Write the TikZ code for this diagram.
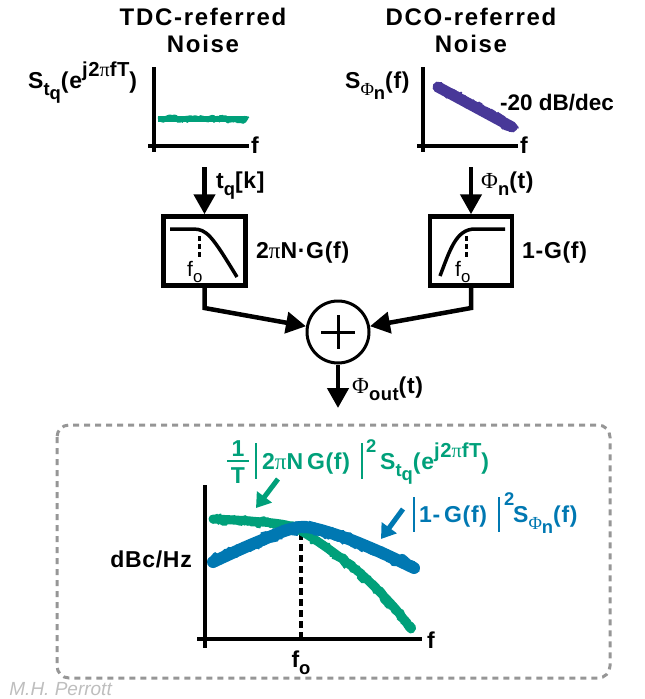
\documentclass[tikz,border=0pt]{standalone}
\usepackage{fontspec}
\setmainfont{Liberation Sans}
\newfontfamily\ttlfont[LetterSpace=7]{Liberation Sans}
\newfontfamily\lblfont[LetterSpace=3]{Liberation Sans}
\newfontfamily\gk{Liberation Serif}
\usetikzlibrary{arrows.meta,decorations.pathmorphing}
\definecolor{tgreen}{RGB}{0,160,122}
\definecolor{tblue}{RGB}{0,120,178}
\definecolor{tpurple}{RGB}{72,56,152}
\definecolor{tgray}{RGB}{150,150,150}
\definecolor{tlight}{RGB}{190,190,190}
\newcommand\lo[1]{\raisebox{-0.32em}{\scalebox{0.8}{#1}}}
\newcommand\hi[1]{\raisebox{0.5em}{\scalebox{0.88}{#1}}}
\newcommand\gpi{{\gk\mdseries π}}
\newcommand\gPhi{{\gk\mdseries Φ}}
\begin{document}
\begin{tikzpicture}[x=1pt,y=-1pt,
  ttl/.style={font=\ttlfont\fontsize{24}{28}\selectfont\bfseries, inner sep=0pt},
  lbl/.style={font=\lblfont\fontsize{23}{27}\selectfont\bfseries, inner sep=0pt},
  small/.style={font=\fontsize{21}{24}\selectfont, inner sep=0pt},
  axisline/.style={line width=4pt},
  arr/.style={line width=4.5pt, -{Triangle[length=20pt,width=21pt]}},
  carr/.style={line width=5pt, -{Triangle[length=14pt,width=18pt]}},
  filt/.style={draw, line width=4.5pt, minimum width=82pt, minimum height=69pt, inner sep=0pt},
  resp/.style={line width=3.5pt},
  vdash/.style={line width=3pt, dash pattern=on 5pt off 3pt},
  vbarline/.style={line width=2.8pt},
  noisy/.style={decorate, line join=bevel, line cap=butt, decoration={random steps, segment length=1.5pt, amplitude=2.5pt}}
]
\pgfmathsetseed{11}
\useasboundingbox (0,0) rectangle (645,699);

% titles
\node[ttl, anchor=base] (t1a) at (203,25) {TDC-referred};
\node[ttl, anchor=base] (t1b) at (203,52) {Noise};
\node[ttl, anchor=base] (t2a) at (471,25) {DCO-referred};
\node[ttl, anchor=base] (t2b) at (471,52) {Noise};

% left spectrum
\node[lbl, anchor=base west] (sl) at (28,88) {S\lo{t\raisebox{-0.25em}{q}}(e\hi{j2\gpi fT})};
\draw[axisline] (148,146) -- (249,146);
\draw[axisline] (154,67) -- (154,152);
\node[lbl, anchor=base west] (fl) at (251,153) {f};
\draw[tgreen, line width=6pt] (158,119) -- (246,119);
\draw[tgreen, line width=5pt, noisy] (158,119) -- (247,119);

% right spectrum
\node[lbl, anchor=base west] (sr) at (345,88) {S\lo{\gPhi\raisebox{-0.25em}{n}}(f)};
\draw[axisline] (417,146) -- (518,146);
\draw[axisline] (423,67) -- (423,152);
\node[lbl, anchor=base west] (fr) at (520,153) {f};
\draw[tpurple, line width=11pt, line cap=round] (438,87) -- (512,127);
\draw[tpurple, line width=9pt, noisy] (437,86) -- (514,128);
\node[font=\fontsize{22.5}{26}\selectfont\bfseries, inner sep=0pt, anchor=base west] (slope) at (500,110) {-20 dB/dec};

% filters
\node[filt] (lpf) at (204.5,251) {};
\node[filt] (hpf) at (471,251) {};
\draw[resp] (170,229) -- (193,229) .. controls (207,229) and (212,236) .. (237,277);
\draw[vdash] (199,236) -- (199,258);
\node[small, anchor=base west] (fo1) at (187,276) {f\lo{o}};
\draw[resp] (440,276) .. controls (450,250) and (456,229) .. (475,229) -- (505,229);
\draw[vdash] (466,236) -- (466,258);
\node[small, anchor=base west] (fo2) at (455,276) {f\lo{o}};
\node[lbl, anchor=base west] (gl) at (256,258) {2\gpi N·G(f)};
\node[lbl, anchor=base west] (hl) at (522,258) {1-G(f)};

% inputs
\coordinate (in1) at (204.5,167);
\coordinate (in2) at (471,167);
\draw[arr] (in1) -- (lpf.north);
\draw[arr] (in2) -- (hpf.north);
\node[lbl, anchor=base west] (tq) at (216,188) {t\lo{q}[k]};
\node[lbl, anchor=base west] (phin) at (481,188) {\gPhi\lo{n}(t)};

% summer
\node[circle, draw, line width=3pt, minimum size=62pt, inner sep=0pt] (sum) at (338,332) {};
\draw[line width=3pt] (321,332) -- (355,332) (338,315) -- (338,349);
\draw[arr] (lpf.south) -- (204.5,308) -- (sum);
\draw[arr] (hpf.south) -- (471,308) -- (sum);
\coordinate (out) at (338,408);
\draw[arr] (sum.south) -- (out);
\node[lbl, anchor=base west] (phout) at (352,393) {\gPhi\lo{out}(t)};

% result panel
\draw[tgray, line width=3pt, dash pattern=on 6pt off 5pt, rounded corners=12pt] (57,425) rectangle (610,678);
\draw[axisline] (205,485) -- (205,648);
\draw[axisline] (197,639) -- (422,639);
\node[lbl, anchor=base west] (fb) at (427,648) {f};
\node[lbl, anchor=base] (fob) at (301,667) {f\lo{o}};
\node[lbl, anchor=base east] (dbc) at (192,567) {dBc/Hz};
\draw[line width=3.5pt, dash pattern=on 7pt off 4pt] (301,533) -- (301,639);

\draw[tgreen, line width=9pt, line cap=round] plot[smooth] coordinates {(213,519) (250,521) (290,526) (320,543) (360,573) (393,606) (411,629)};
\draw[tgreen, line width=8pt, noisy] (212,519) -- (230,520) -- (250,521) -- (270,523) -- (290,526) -- (305,533) -- (320,543) -- (340,557) -- (360,573) -- (378,590) -- (393,606) -- (412,630);
\draw[tblue, line width=12pt, line cap=round] plot[smooth] coordinates {(213,562) (255,543) (300,527) (340,536) (380,552) (414,568)};
\draw[tblue, line width=11pt, noisy] (212,562) -- (234,552) -- (255,543) -- (278,534) -- (300,527) -- (320,530) -- (340,536) -- (360,544) -- (380,552) -- (398,560) -- (415,568);

% green label
\node[lbl, tgreen, anchor=base] (one) at (238,456) {1};
\draw[tgreen, line width=2.5pt] (227,461) -- (249,461);
\node[lbl, tgreen, anchor=base] (tee) at (238,483) {T};
\draw[tgreen, vbarline] (256,443) -- (256,479);
\node[lbl, tgreen, anchor=base west] (gmid) at (262,469) {2\gpi N\,G(f)};
\draw[tgreen, vbarline] (362,443) -- (362,479);
\node[lbl, tgreen, anchor=base west] (gsq) at (366,452) {\scalebox{0.8}{2}};
\node[lbl, tgreen, anchor=base west] (gs) at (380,469) {S\lo{t\raisebox{-0.25em}{q}}(e\hi{j2\gpi fT})};
% blue label
\draw[tblue, vbarline] (414,497) -- (414,532);
\node[lbl, tblue, anchor=base west] (bmid) at (419,522) {1-\,G(f)};
\draw[tblue, vbarline] (499,497) -- (499,532);
\node[lbl, tblue, anchor=base west] (bsq) at (504,505) {\scalebox{0.8}{2}};
\node[lbl, tblue, anchor=base west] (bs) at (513,522) {S\lo{\gPhi\raisebox{-0.25em}{n}}(f)};

\coordinate (ga) at (278,479);
\coordinate (gb) at (256,508);
\coordinate (ba) at (403,509);
\coordinate (bb) at (381,539);
\draw[carr, tgreen] (ga) -- (gb);
\draw[carr, tblue] (ba) -- (bb);

\node[font=\fontsize{19}{21}\selectfont\itshape, text=tlight, anchor=base east, inner sep=0pt] (auth) at (112,695) {M.H. Perrott};
\end{tikzpicture}
\end{document}
